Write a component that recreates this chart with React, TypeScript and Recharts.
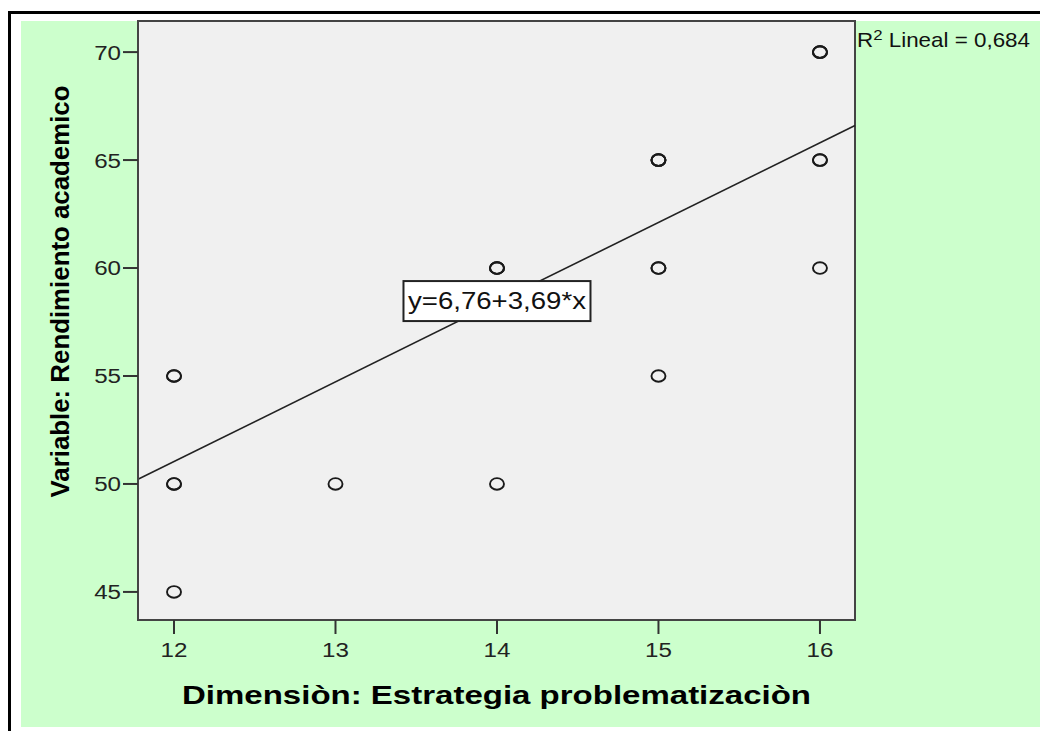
import React from 'react';
import {
  ScatterChart,
  Scatter,
  XAxis,
  YAxis,
  CartesianGrid,
  ReferenceLine,
  ReferenceDot,
  ReferenceArea,
} from 'recharts';

// Dimensión: Estrategia problematización (x) vs Rendimiento académico (y)
// repeated rows = several students at the same point (drawn darker)
const dimensionScores = [12, 12, 12, 12, 12, 13, 14, 14, 14, 14, 15, 15, 15, 15, 15, 15, 16, 16, 16, 16, 16, 16];
const performanceScores = [45, 50, 50, 55, 55, 50, 50, 60, 60, 60, 55, 60, 60, 65, 65, 65, 60, 65, 65, 70, 70, 70];

const xTicks = [12, 13, 14, 15, 16];
const yTicks = [45, 50, 55, 60, 65, 70];
const xDomain: [number, number] = [11.777, 16.217];
const yDomain: [number, number] = [43.7, 71.44];

const intercept = 6.76;
const slope = 3.69;
const equationText = 'y=6,76+3,69*x';
const equationAnchor = { x: 14, y: 58.47 };
const rSquaredText = '0,684';

const xTitle = 'Dimensiòn: Estrategia problematizaciòn';
const yTitle = 'Variable: Rendimiento academico';

const points = dimensionScores.map((x, i) => ({ x, y: performanceScores[i] }));

const FONT = '"Liberation Sans", Arial, sans-serif';
const SX = 1.15;

const XTick = (props: any) => {
  const { x, y, payload } = props;
  return (
    <g transform={`translate(${x},${y})`}>
      <text
        transform={`scale(${SX},1)`}
        textAnchor="middle"
        dy="0.71em"
        fontSize={21}
        fontFamily={FONT}
        fill="#222"
      >
        {payload.value}
      </text>
    </g>
  );
};

const YTick = (props: any) => {
  const { x, y, payload } = props;
  return (
    <g transform={`translate(${x},${y})`}>
      <text
        transform={`scale(${SX},1)`}
        textAnchor="end"
        dy="0.355em"
        fontSize={21}
        fontFamily={FONT}
        fill="#222"
      >
        {payload.value}
      </text>
    </g>
  );
};

const XTitle = (props: any) => {
  const vb = props.viewBox || { x: 138, y: 620, width: 717, height: 111 };
  return (
    <text
      x={vb.x + vb.width / 2}
      y={vb.y + 84}
      textAnchor="middle"
      fontSize={26}
      fontWeight="bold"
      fontFamily={FONT}
      fill="#000"
      textLength={629}
      lengthAdjust="spacingAndGlyphs"
    >
      {xTitle}
    </text>
  );
};

const YTitle = (props: any) => {
  const vb = props.viewBox || { x: 0, y: 21, width: 138, height: 599 };
  const cx = vb.x + 69;
  const cy = vb.y + vb.height / 2 - 29;
  return (
    <g transform={`translate(${cx},${cy}) scale(1.15,1) rotate(-90)`}>
      <text
        x={0}
        y={0}
        textAnchor="middle"
        fontSize={23}
        fontWeight="bold"
        fontFamily={FONT}
        fill="#000"
        textLength={412}
        lengthAdjust="spacingAndGlyphs"
      >
        {yTitle}
      </text>
    </g>
  );
};

const Ring = (props: any) => {
  const { cx, cy } = props;
  return <ellipse cx={cx} cy={cy} rx={7} ry={5.8} fill="none" stroke="#1a1a1a" strokeWidth={1.9} />;
};

const EquationBox = (props: any) => {
  const { cx, cy } = props;
  const w = 187;
  const h = 40;
  return (
    <g>
      <rect x={cx - w / 2} y={cy - h / 2} width={w} height={h} fill="#fff" stroke="#222" strokeWidth={2} />
      <g transform={`translate(${cx},${cy})`}>
        <text
          transform="scale(1.2,1)"
          textAnchor="middle"
          dy="0.36em"
          fontSize={23}
          fontFamily={FONT}
          fill="#111"
        >
          {equationText}
        </text>
      </g>
    </g>
  );
};

const RSquared = (props: any) => {
  const { cx, cy } = props;
  return (
    <g transform={`translate(${cx + 2},${cy + 26})`}>
      <text transform="scale(1.12,1)" fontSize={20} fontFamily={FONT} fill="#111">
        R
        <tspan dy={-7} fontSize={15}>2</tspan>
        <tspan dy={7}> Lineal = {rSquaredText}</tspan>
      </text>
    </g>
  );
};

export default function App() {
  return (
    <div style={{ position: 'absolute', left: 0, top: 0, width: 1040, height: 731, background: '#fff', overflow: 'hidden' }}>
      <div
        style={{
          position: 'absolute',
          left: 8,
          top: 11,
          width: 1040,
          height: 730,
          borderLeft: '3px solid #000',
          borderTop: '3px solid #000',
          boxSizing: 'border-box',
        }}
      />
      <div style={{ position: 'absolute', left: 21, top: 21, width: 1019, height: 706, background: '#ccffcc' }} />
      <div style={{ position: 'absolute', left: 0, top: 0 }}>
        <ScatterChart width={1040} height={731} margin={{ top: 21, right: 185, bottom: 0, left: 0 }}>
          <CartesianGrid horizontal={false} vertical={false} fill="#f0f0f0" />
          <XAxis
            dataKey="x"
            type="number"
            domain={xDomain}
            ticks={xTicks}
            allowDataOverflow
            height={111}
            tickSize={14}
            tickMargin={8}
            tick={<XTick />}
            tickLine={{ stroke: '#333', strokeWidth: 2 }}
            axisLine={{ stroke: '#444', strokeWidth: 2 }}
            label={<XTitle />}
          />
          <YAxis
            dataKey="y"
            type="number"
            domain={yDomain}
            ticks={yTicks}
            allowDataOverflow
            width={138}
            tickSize={15}
            tickMargin={2}
            tick={<YTick />}
            tickLine={{ stroke: '#333', strokeWidth: 2 }}
            axisLine={{ stroke: '#444', strokeWidth: 2 }}
            label={<YTitle />}
          />
          <ReferenceArea
            x1={xDomain[0]}
            x2={xDomain[1]}
            y1={yDomain[0]}
            y2={yDomain[1]}
            fill="none"
            stroke="#444"
            strokeWidth={2}
            ifOverflow="visible"
          />
          <ReferenceLine
            segment={[
              { x: xDomain[0], y: intercept + slope * xDomain[0] },
              { x: xDomain[1], y: intercept + slope * xDomain[1] },
            ]}
            stroke="#222"
            strokeWidth={1.6}
            ifOverflow="visible"
          />
          <Scatter data={points} shape={<Ring />} isAnimationActive={false} />
          <ReferenceDot
            x={equationAnchor.x}
            y={equationAnchor.y}
            r={0}
            shape={<EquationBox />}
            ifOverflow="visible"
          />
          <ReferenceDot
            x={xDomain[1]}
            y={yDomain[1]}
            r={0}
            shape={<RSquared />}
            ifOverflow="visible"
          />
        </ScatterChart>
      </div>
    </div>
  );
}
